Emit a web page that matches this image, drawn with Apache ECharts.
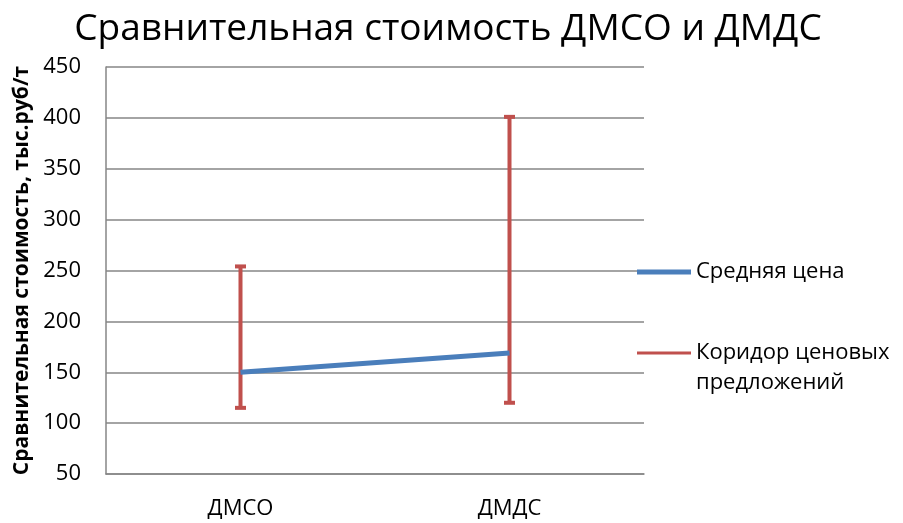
<!DOCTYPE html>
<html>
<head>
<meta charset="utf-8">
<script src="https://cdn.jsdelivr.net/npm/echarts@6/dist/echarts.min.js"></script>
<style>
  html, body { margin: 0; padding: 0; background: #fff; }
  #chart { width: 903px; height: 523px; }
</style>
</head>
<body>
<div id="chart"></div>
<script>
// Products compared
const categories = ['ДМСО', 'ДМДС'];
// Average price, thousand rub per tonne
const avgPrice = [150, 169];
// Price offer corridor: lower and upper bounds
const corridorLow = [115, 120];
const corridorHigh = [254, 401];
// Value axis range
const yMin = 50, yMax = 450, yStep = 50;

const FONT = '"Open Sans", "Noto Sans", sans-serif';
const chart = echarts.init(document.getElementById('chart'), null, { renderer: 'canvas' });

const corridorData = categories.map((c, i) => [i, corridorLow[i], corridorHigh[i]]);

chart.setOption({
  animation: false,
  backgroundColor: '#fff',
  title: {
    text: 'Сравнительная стоимость ДМСО и ДМДС',
    left: 443, textAlign: 'center', top: 6,
    textStyle: { fontFamily: FONT, fontSize: 37, fontWeight: 'normal', color: '#000' }
  },
  legend: [
    {
      data: ['Средняя цена'],
      left: 632, top: 256, orient: 'vertical',
      itemWidth: 54, itemHeight: 5, itemGap: 0, icon: 'rect',
      textStyle: { fontFamily: FONT, fontSize: 22, color: '#000' }
    },
    {
      data: ['Коридор ценовых предложений'],
      left: 632, top: 303, orient: 'vertical',
      itemWidth: 54, itemHeight: 3, itemGap: 0, icon: 'rect',
      // leading blank line keeps the marker level with the first text line
      formatter: () => '\nКоридор ценовых\nпредложений',
      textStyle: { fontFamily: FONT, fontSize: 22, color: '#000', lineHeight: 30 }
    }
  ],
  grid: { left: 106, right: 259, top: 67, bottom: 49, outerBoundsMode: 'none', containLabel: false },
  xAxis: {
    type: 'category', data: categories, boundaryGap: true,
    axisLine: { lineStyle: { color: '#868686', width: 1.5 } },
    axisTick: { show: false },
    axisLabel: { fontFamily: FONT, fontSize: 22, color: '#000', margin: 24 }
  },
  yAxis: {
    type: 'value', min: yMin, max: yMax, interval: yStep,
    name: 'Сравнительная стоимость, тыс.руб/т',
    nameLocation: 'middle', nameGap: 72, nameRotate: 90,
    nameTextStyle: { fontFamily: FONT, fontSize: 21, fontWeight: 'bold', color: '#000' },
    axisLine: { show: true, lineStyle: { color: '#868686', width: 1.5 } },
    axisTick: { show: false },
    splitLine: { lineStyle: { color: '#868686', width: 1.5 } },
    axisLabel: { fontFamily: FONT, fontSize: 22, color: '#000', margin: 25 }
  },
  series: [
    {
      name: 'Коридор ценовых предложений',
      type: 'custom',
      color: '#C0504D',
      encode: { x: 0, y: [1, 2] },
      data: corridorData,
      z: 2,
      renderItem: (params, api) => {
        const lo = api.coord([api.value(0), api.value(1)]);
        const hi = api.coord([api.value(0), api.value(2)]);
        const half = 5.5;
        const style = { stroke: '#C0504D', lineWidth: 4, fill: null };
        return {
          type: 'group',
          children: [
            { type: 'line', shape: { x1: lo[0], y1: lo[1], x2: hi[0], y2: hi[1] }, style },
            { type: 'line', shape: { x1: hi[0] - half, y1: hi[1], x2: hi[0] + half, y2: hi[1] }, style },
            { type: 'line', shape: { x1: lo[0] - half, y1: lo[1], x2: lo[0] + half, y2: lo[1] }, style }
          ]
        };
      }
    },
    {
      name: 'Средняя цена',
      type: 'line',
      data: avgPrice,
      color: '#4A7EBB',
      showSymbol: false,
      symbol: 'none',
      lineStyle: { color: '#4A7EBB', width: 5 },
      z: 3
    }
  ]
});
</script>
</body>
</html>
